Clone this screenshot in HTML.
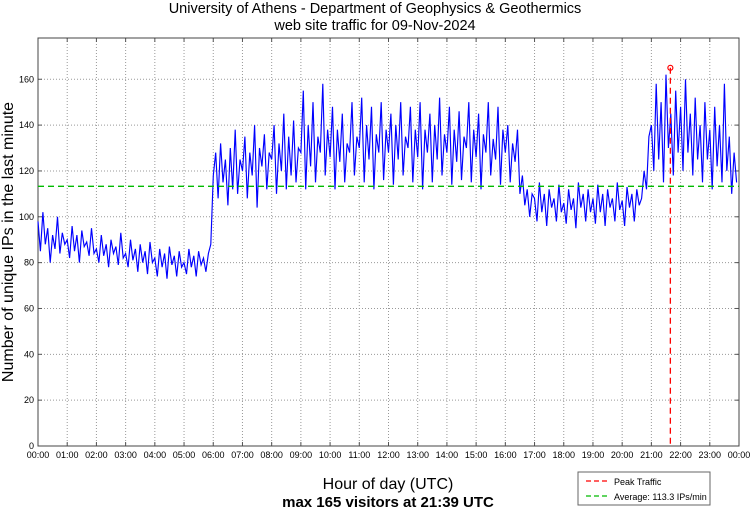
<!DOCTYPE html>
<html><head><meta charset="utf-8"><style>
body{margin:0;background:#fff;}
svg{display:block;font-family:"Liberation Sans",sans-serif;}
</style></head><body>
<svg id="chart" width="750" height="511">
<text x="375" y="13" text-anchor="middle" font-size="14.5">University of Athens - Department of Geophysics &amp; Geothermics</text>
<text x="375" y="30" text-anchor="middle" font-size="14.5">web site traffic for 09-Nov-2024</text>
<text x="13" y="242" text-anchor="middle" font-size="16" transform="rotate(-90 13 242)">Number of unique IPs in the last minute</text>
<text x="388" y="489" text-anchor="middle" font-size="16">Hour of day (UTC)</text>
<text x="388" y="507" text-anchor="middle" font-size="15" font-weight="bold">max 165 visitors at 21:39 UTC</text>
<g id="grid"></g><g id="series"></g><g id="overlay"></g>
<g>
<rect x="578" y="472" width="132" height="33" fill="#fff" stroke="#666"/>
<line x1="586" y1="481" x2="610" y2="481" stroke="#f00" stroke-width="1.3" stroke-dasharray="5,3"/>
<text x="614" y="485" font-size="9">Peak Traffic</text>
<line x1="586" y1="496" x2="610" y2="496" stroke="#0b0" stroke-width="1.3" stroke-dasharray="5,3"/>
<text x="614" y="500" font-size="9">Average: 113.3 IPs/min</text>
</g>
</svg>
<script>
const hourLabels=["00:00","01:00","02:00","03:00","04:00","05:00","06:00","07:00","08:00","09:00","10:00","11:00","12:00","13:00","14:00","15:00","16:00","17:00","18:00","19:00","20:00","21:00","22:00","23:00","00:00"];
const yTicks=[0,20,40,60,80,100,120,140,160];
const averageValue=113.3;
const peakValue=165;
const peakHour=21+39/60;
// 5-minute samples (12 per hour)
const traffic=[
 98,85,102,88,95,80,92,86,100,84,93,88,
 90,82,96,85,92,80,94,87,89,83,95,84,
 86,80,92,83,88,78,90,84,87,79,93,82,
 84,78,90,81,86,76,88,80,85,75,89,80,
 82,74,86,78,84,73,87,79,83,74,85,78,
 80,75,86,78,83,74,85,79,82,76,84,88,
 118,128,108,132,115,125,105,130,112,138,110,125,
 120,135,108,128,118,140,104,130,122,136,112,128,
 125,140,110,132,120,145,112,135,118,142,115,130,
 128,155,112,140,122,150,115,135,128,158,118,138,
 126,148,112,138,124,145,115,132,128,150,118,135,
 130,152,115,140,125,148,112,136,128,150,116,138,
 128,145,114,140,125,150,118,135,130,148,115,138,
 126,150,112,138,128,145,115,140,125,152,118,136,
 128,148,114,138,124,146,116,135,130,150,115,138,
 126,145,112,136,128,150,118,134,125,148,114,138,
 128,140,115,132,124,138,110,118,105,112,100,110,
 108,98,115,102,110,96,112,104,108,98,114,102,
 106,97,112,103,108,95,115,104,110,98,112,102,
 108,97,114,102,110,96,112,104,108,98,115,103,
 107,96,113,104,110,98,112,105,108,120,112,135,
 140,120,158,125,150,115,162,130,145,118,155,128,
 148,120,160,128,145,118,152,125,140,115,150,125,
 138,112,148,122,140,115,158,120,135,110,128,115
];
const NS="http://www.w3.org/2000/svg";
const L=38,R=739,T=38,B=446,YMAX=178;
const xs=h=>L+(R-L)*h/24;
const ys=v=>B-(B-T)*v/YMAX;
function mk(tag,attrs,parent){const e=document.createElementNS(NS,tag);for(const k in attrs)e.setAttribute(k,attrs[k]);parent.appendChild(e);return e;}
const grid=document.getElementById('grid');
mk('rect',{x:L,y:T,width:R-L,height:B-T,fill:'#fff',stroke:'none'},grid);
hourLabels.forEach((lab,i)=>{
 const x=xs(i);
 if(i>0&&i<24){const g=mk('line',{x1:x,y1:T,x2:x,y2:B,stroke:'#999','stroke-dasharray':'1,2','stroke-width':1},grid);
 
 }
 mk('line',{x1:x,y1:B,x2:x,y2:B-4,stroke:'#555'},grid);
 mk('line',{x1:x,y1:T,x2:x,y2:T+4,stroke:'#555'},grid);
 const t=mk('text',{x:x,y:B+12,'text-anchor':'middle','font-size':'9'},grid);
 t.textContent=lab;
 
 
});
yTicks.forEach(v=>{
 const y=ys(v);
 if(v>0){const g=mk('line',{x1:L,y1:y,x2:R,y2:y,stroke:'#999','stroke-dasharray':'1,2','stroke-width':1},grid);
 
 }
 mk('line',{x1:R,y1:y,x2:R-4,y2:y,stroke:'#555'},grid);
 mk('line',{x1:L,y1:y,x2:L+4,y2:y,stroke:'#555'},grid);
 const t=mk('text',{x:L-4,y:y+3,'text-anchor':'end','font-size':'9'},grid);
 t.textContent=v;
 
 
});
const frame=mk('rect',{x:L,y:T,width:R-L,height:B-T,fill:'none',stroke:'#444'},grid);


const series=document.getElementById('series');
const pts=traffic.map((v,i)=>xs(i*24/traffic.length).toFixed(1)+','+ys(v).toFixed(1)).join(' ');
const line=mk('polyline',{points:pts,fill:'none',stroke:'#00f','stroke-width':1.15},series);


const ov=document.getElementById('overlay');
const avg=mk('line',{x1:L,y1:ys(averageValue),x2:R,y2:ys(averageValue),stroke:'#0b0','stroke-width':1.3,'stroke-dasharray':'6,4'},ov);


const pk=mk('line',{x1:xs(peakHour),y1:ys(peakValue),x2:xs(peakHour),y2:B,stroke:'#f00','stroke-width':1.3,'stroke-dasharray':'6,4'},ov);


const pm=mk('circle',{cx:xs(peakHour),cy:ys(peakValue),r:2.5,fill:'none',stroke:'#f00','stroke-width':1.2},ov);


</script>
</body></html>
